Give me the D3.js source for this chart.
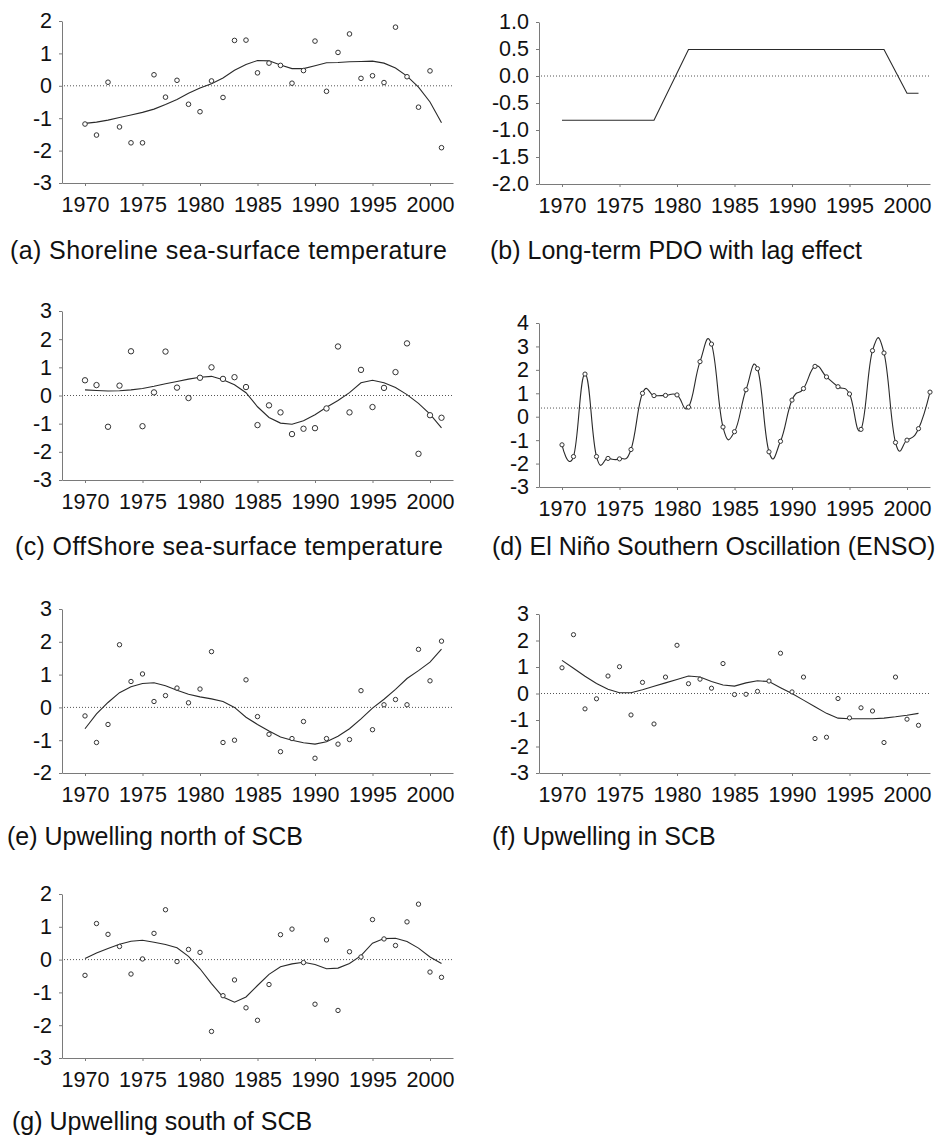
<!DOCTYPE html>
<html>
<head>
<meta charset="utf-8">
<script src="https://cdn.jsdelivr.net/npm/d3@7"></script>
<style>
body { margin: 0; background: #fff; }
svg text { font-family: "Liberation Sans", Arial, sans-serif; fill: #111; }
</style>
</head>
<body>
<svg id="chart" width="937" height="1137"></svg>
<script>
// years on the x axis
var years = [1970,1971,1972,1973,1974,1975,1976,1977,1978,1979,1980,1981,1982,1983,1984,1985,
             1986,1987,1988,1989,1990,1991,1992,1993,1994,1995,1996,1997,1998,1999,2000,2001]
var ensoYears = years.concat([2002])
var yearTicks = [1970,1975,1980,1985,1990,1995,2000]

// (a) shoreline SST
var shorePoints = [-1.18,-1.52,0.11,-1.27,-1.76,-1.76,0.34,-0.35,0.17,-0.57,-0.80,0.15,-0.36,1.40,1.41,0.40,
                   0.70,0.63,0.08,0.47,1.38,-0.17,1.03,1.60,0.23,0.31,0.10,1.81,0.28,-0.66,0.46,-1.91]
var shoreFit = [-1.16,-1.12,-1.06,-0.98,-0.90,-0.82,-0.72,-0.58,-0.42,-0.23,-0.07,0.06,0.24,0.48,0.66,0.78,
                0.77,0.64,0.53,0.53,0.62,0.71,0.72,0.74,0.75,0.76,0.70,0.55,0.30,-0.04,-0.50,-1.14]

// (b) long-term PDO, break points of the step line
var pdoYears = [1970,1978,1981,1998,2000,2001]
var pdoValues = [-0.82,-0.82,0.49,0.49,-0.32,-0.32]

// (c) offshore SST
var offPoints = [0.54,0.37,-1.11,0.35,1.57,-1.09,0.11,1.56,0.28,-0.09,0.63,1.00,0.59,0.65,0.30,-1.05,
                 -0.35,-0.60,-1.37,-1.18,-1.16,-0.46,1.74,-0.60,0.91,-0.41,0.27,0.83,1.85,-2.07,-0.70,-0.79]
var offFit = [0.20,0.18,0.16,0.17,0.20,0.25,0.33,0.42,0.50,0.58,0.65,0.68,0.56,0.38,0.10,-0.40,
              -0.78,-0.98,-1.02,-0.90,-0.68,-0.42,-0.18,0.10,0.45,0.54,0.45,0.28,0.03,-0.28,-0.66,-1.15]

// (d) ENSO
var ensoPoints = [-1.2,-1.7,1.82,-1.7,-1.78,-1.8,-1.4,1.0,0.9,0.91,0.93,0.41,2.35,3.1,-0.44,-0.64,1.15,
                  2.05,-1.5,-1.05,0.71,1.2,2.15,1.7,1.28,0.97,-0.54,2.82,2.72,-1.1,-1.0,-0.51,1.05]
var ensoMean = 0.37

// (e) upwelling north of SCB
var northPoints = [-0.26,-1.07,-0.52,1.91,0.79,1.02,0.18,0.36,0.59,0.14,0.56,1.70,-1.07,-1.00,0.84,-0.28,
                   -0.82,-1.35,-0.95,-0.43,-1.55,-0.95,-1.12,-0.98,0.51,-0.68,0.08,0.24,0.08,1.77,0.81,2.02]
var northFit = [-0.65,-0.20,0.15,0.45,0.63,0.73,0.75,0.66,0.52,0.40,0.32,0.26,0.18,0.00,-0.30,-0.52,
                -0.72,-0.90,-1.00,-1.08,-1.12,-1.05,-0.88,-0.65,-0.35,-0.02,0.25,0.55,0.88,1.12,1.38,1.78]

// (f) upwelling in SCB
var inPoints = [0.97,2.22,-0.58,-0.20,0.66,1.01,-0.81,0.42,-1.15,0.62,1.82,0.37,0.54,0.20,1.13,-0.04,
                -0.03,0.08,0.47,1.52,0.06,0.62,-1.70,-1.65,-0.19,-0.92,-0.54,-0.66,-1.85,0.62,-0.97,-1.20]
var inFit = [1.25,0.95,0.65,0.38,0.16,0.03,0.03,0.14,0.27,0.40,0.53,0.66,0.62,0.45,0.32,0.28,
             0.40,0.48,0.45,0.22,0.00,-0.25,-0.50,-0.75,-0.93,-0.95,-0.95,-0.95,-0.93,-0.88,-0.82,-0.75]

// (g) upwelling south of SCB
var southPoints = [-0.48,1.10,0.77,0.40,-0.44,0.02,0.80,1.52,-0.06,0.31,0.22,-2.19,-1.10,-0.62,-1.47,-1.85,
                   -0.76,0.76,0.93,-0.09,-1.36,0.60,-1.55,0.24,0.08,1.22,0.63,0.43,1.15,1.69,-0.38,-0.54]
var southFit = [0.03,0.20,0.34,0.47,0.56,0.59,0.53,0.46,0.36,0.10,-0.28,-0.73,-1.14,-1.30,-1.14,-0.79,
                -0.45,-0.22,-0.13,-0.08,-0.15,-0.28,-0.26,-0.12,0.12,0.50,0.64,0.65,0.55,0.35,0.08,-0.12]

var svg = d3.select("#chart")
var intFmt = function(d){ return String(d) }
var decFmt = function(d){ return d.toFixed(1) }

function drawPanel(p) {
    var x = d3.scaleLinear().domain([1968, 2002]).range([p.left, p.right])
    var y = d3.scaleLinear().domain(p.yDomain).range([p.bottom, p.top])
    var g = svg.append("g")

    g.append("g")
        .attr("transform", "translate(0," + p.bottom + ")")
        .call(d3.axisBottom(x).tickValues(yearTicks).tickFormat(d3.format("d"))
              .tickSize(3).tickSizeOuter(0).tickPadding(11))
    g.append("g")
        .attr("transform", "translate(" + p.left + ",0)")
        .call(d3.axisLeft(y).tickValues(p.ticks).tickFormat(p.fmt)
              .tickSize(3).tickSizeOuter(0).tickPadding(7))
    g.selectAll(".domain, .tick line").attr("stroke", "#7a7a7a")
    g.selectAll(".tick text").attr("font-size", 21.5).attr("fill", "#111")
        .style("font-family", '"Liberation Sans", Arial, sans-serif')

    // dotted reference line
    g.append("line")
        .attr("x1", p.left + 2).attr("x2", p.right)
        .attr("y1", y(p.ref)).attr("y2", y(p.ref))
        .attr("stroke", "#555").attr("stroke-width", 1)
        .attr("stroke-dasharray", "1,2")

    if (p.line) {
        var line = d3.line()
            .x(function(d){ return x(d[0]) })
            .y(function(d){ return y(d[1]) })
            .curve(p.curve || d3.curveLinear)
        g.append("path")
            .datum(d3.zip(p.lineX, p.line))
            .attr("d", line)
            .attr("fill", "none")
            .attr("stroke", "#2a2a2a")
            .attr("stroke-width", 1.1)
    }

    if (p.points) {
        g.selectAll("circle.pt")
            .data(d3.zip(p.pointX, p.points))
            .enter().append("circle")
            .attr("class", "pt")
            .attr("cx", function(d){ return x(d[0]) })
            .attr("cy", function(d){ return y(d[1]) })
            .attr("r", p.r)
            .attr("fill", "#fff")
            .attr("stroke", "#333")
            .attr("stroke-width", 1)
    }

    var t = g.append("text")
        .attr("x", p.titleX).attr("y", p.titleY)
        .attr("font-size", 25)
        .text(p.title)
    if (p.titleLen) t.attr("textLength", p.titleLen).attr("lengthAdjust", "spacing")
}

var L = { left: 62, right: 453 }
var R = { left: 539, right: 930 }

drawPanel({ left: L.left, right: L.right, top: 21, bottom: 183,
    yDomain: [-3, 2], ticks: [-3,-2,-1,0,1,2], fmt: intFmt, ref: 0,
    pointX: years, points: shorePoints, lineX: years, line: shoreFit, r: 2.3,
    title: "(a) Shoreline sea-surface temperature", titleX: 10, titleY: 259, titleLen: 437 })

drawPanel({ left: R.left, right: R.right, top: 22, bottom: 184,
    yDomain: [-2, 1], ticks: [-2,-1.5,-1,-0.5,0,0.5,1], fmt: decFmt, ref: 0,
    lineX: pdoYears, line: pdoValues,
    title: "(b) Long-term PDO with lag effect", titleX: 490, titleY: 259 })

drawPanel({ left: L.left, right: L.right, top: 311, bottom: 480,
    yDomain: [-3, 3], ticks: [-3,-2,-1,0,1,2,3], fmt: intFmt, ref: 0,
    pointX: years, points: offPoints, lineX: years, line: offFit, r: 2.7,
    title: "(c) OffShore sea-surface temperature", titleX: 15, titleY: 555, titleLen: 428 })

drawPanel({ left: R.left, right: R.right, top: 323, bottom: 487,
    yDomain: [-3, 4], ticks: [-3,-2,-1,0,1,2,3,4], fmt: intFmt, ref: ensoMean,
    pointX: ensoYears, points: ensoPoints, lineX: ensoYears, line: ensoPoints,
    curve: d3.curveCardinal.tension(-0.35), r: 2.1,
    title: "(d) El Niño Southern Oscillation (ENSO)", titleX: 492, titleY: 555 })

drawPanel({ left: L.left, right: L.right, top: 609, bottom: 773,
    yDomain: [-2, 3], ticks: [-2,-1,0,1,2,3], fmt: intFmt, ref: 0,
    pointX: years, points: northPoints, lineX: years, line: northFit, r: 2.2,
    title: "(e) Upwelling north of SCB", titleX: 7, titleY: 845 })

drawPanel({ left: R.left, right: R.right, top: 614, bottom: 773,
    yDomain: [-3, 3], ticks: [-3,-2,-1,0,1,2,3], fmt: intFmt, ref: 0,
    pointX: years, points: inPoints, lineX: years, line: inFit, r: 2.1,
    title: "(f) Upwelling in SCB", titleX: 492, titleY: 845 })

drawPanel({ left: L.left, right: L.right, top: 894, bottom: 1058,
    yDomain: [-3, 2], ticks: [-3,-2,-1,0,1,2], fmt: intFmt, ref: 0,
    pointX: years, points: southPoints, lineX: years, line: southFit, r: 2.2,
    title: "(g) Upwelling south of SCB", titleX: 12, titleY: 1130 })
</script>
</body>
</html>
